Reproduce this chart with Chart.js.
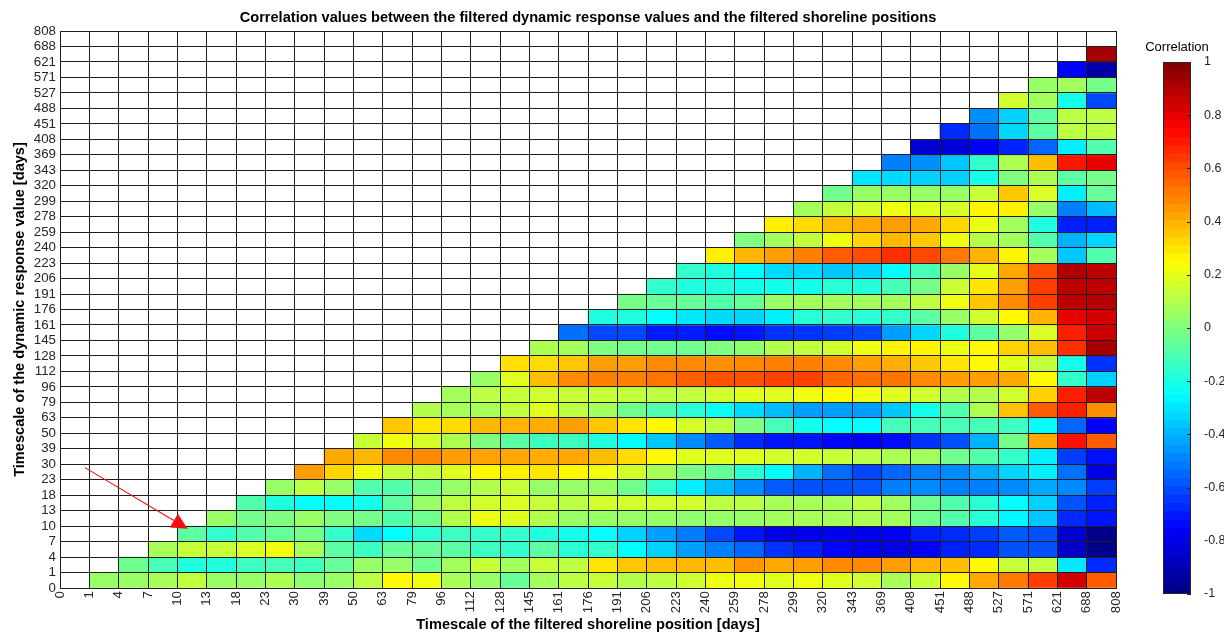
<!DOCTYPE html>
<html><head><meta charset="utf-8">
<script src="https://cdn.jsdelivr.net/npm/chart.js@4.4.1/dist/chart.umd.min.js"></script>
<style>
html,body{margin:0;padding:0;background:#fff;}
#wrap{position:relative;width:1224px;height:634px;overflow:hidden;background:#fff;}
#main{position:absolute;left:0;top:0;}
#cbar{position:absolute;left:1130px;top:0;}
</style></head><body>
<div id="wrap"><canvas id="main" width="1224" height="634"></canvas><canvas id="cbar" width="94" height="634"></canvas></div>
<script>
// Tick labels (cell edges) shared by both axes, in days
const timescales = [0,1,4,7,10,13,18,23,30,39,50,63,79,96,112,128,145,161,176,191,206,223,240,259,278,299,320,343,369,408,451,488,527,571,621,688,808];

// Correlation values, one array per dynamic-response row (row k spans timescales[k]..timescales[k+1]),
// each row starts at shoreline column k+1 and runs to the last column.
const r00 = [0.05,0.05,0.08,0.13,0.05,0.05,0.09,0.03,0.05,0.12, 0.26,0.22,0.08,0.05,-0.05,0.07,0.12,0.14,0.10,0.12, 0.16,0.22,0.22,0.19,0.22,0.19,0.16,0.08,0.14,0.26, 0.42,0.51,0.63,0.84,0.57];
const r01 = [-0.03,-0.11,-0.19,-0.19,-0.13,-0.11,-0.13,-0.05,0.05, 0.05,-0.03,0.07,0.14,0.07,0.14,0.12,0.30,0.36,0.38, 0.39,0.38,0.46,0.42,0.44,0.48,0.48,0.44,0.40,0.38, 0.26,0.14,0.13,-0.29,-0.67];
const r02 = [0.08,0.14,0.14,0.18,0.22,0.08,-0.07,-0.13, -0.05,-0.05,-0.07,-0.13,-0.15,-0.07,-0.17,-0.15,-0.25,-0.34, -0.44,-0.50,-0.55,-0.65,-0.69,-0.74,-0.78,-0.80,-0.77,-0.69, -0.67,-0.59,-0.59,-0.86,-0.98];
const r03 = [-0.07,-0.15,-0.09,-0.05,-0.02,-0.15,-0.32, -0.25,-0.17,-0.13,-0.15,-0.15,-0.19,-0.21,-0.25,-0.34,-0.44, -0.51,-0.61,-0.71,-0.79,-0.78,-0.77,-0.78,-0.76,-0.69,-0.67, -0.63,-0.57,-0.59,-0.84,-0.98];
const r04 = [0.05,-0.02,0.00,0.05,0.00,-0.02, -0.09,-0.03,0.10,0.21,0.19,0.10,0.05,0.05,0.05,0.05, 0.03,0.05,0.05,0.07,0.08,0.08,0.09,0.07,-0.03,-0.09, -0.17,-0.26,-0.36,-0.67,-0.71];
const r05 = [-0.09,-0.19,-0.25,-0.25,-0.21, -0.07,0.05,0.12,0.16,0.18,0.14,0.12,0.16,0.16,0.16, 0.16,0.12,0.12,0.08,0.08,0.08,0.12,0.07,-0.03,-0.09, -0.17,-0.25,-0.34,-0.59,-0.69];
const r06 = [0.05,0.12,0.05,-0.09, -0.09,-0.02,0.05,0.10,0.14,0.05,0.05,0.05,-0.03,-0.15, -0.28,-0.38,-0.48,-0.57,-0.59,-0.59,-0.58,-0.50,-0.48,-0.50, -0.50,-0.48,-0.42,-0.48,-0.63];
const r07 = [0.44,0.33,0.22, 0.14,0.14,0.19,0.26,0.28,0.30,0.26,0.22,0.16,0.08, -0.01,-0.05,-0.16,-0.25,-0.40,-0.54,-0.61,-0.55,-0.50,-0.48, -0.41,-0.33,-0.28,-0.53,-0.80];
const r08 = [0.42,0.39, 0.48,0.48,0.44,0.43,0.42,0.41,0.42,0.38,0.32,0.26, 0.19,0.19,0.19,0.16,0.16,0.14,0.12,0.09,0.07,-0.03, -0.09,-0.15,-0.28,-0.63,-0.72];
const r09 = [0.14, 0.22,0.17,0.09,0.00,-0.07,-0.13,-0.13,-0.19,-0.25,-0.36, -0.48,-0.57,-0.67,-0.71,-0.71,-0.74,-0.75,-0.73,-0.65,-0.59, -0.40,-0.02,0.42,0.72,0.57];
const r10 = [0.36,0.30,0.32,0.39,0.40,0.41,0.44,0.36,0.30,0.26, 0.17,0.12,0.00,-0.11,-0.21,-0.25,-0.25,-0.11,-0.11,-0.11, -0.11,-0.13,-0.25,-0.55,-0.75];
const r11 = [0.10,0.08,0.08,0.13,0.19,0.12,0.07,-0.03,-0.09, -0.17,-0.23,-0.32,-0.38,-0.44,-0.44,-0.44,-0.36,-0.21,-0.09, 0.09,0.37,0.57,0.69,0.47];
const r12 = [0.07,0.12,0.14,0.16,0.14,0.14,0.13,0.12, 0.13,0.16,0.19,0.19,0.22,0.26,0.22,0.19,0.16,0.10, 0.10,0.16,0.34,0.69,0.88];
const r13 = [0.05,0.19,0.38,0.48,0.50,0.50,0.52, 0.56,0.59,0.59,0.62,0.62,0.55,0.53,0.52,0.48,0.44, 0.44,0.42,0.26,-0.15,-0.34];
const r14 = [0.31,0.32,0.36,0.44,0.44,0.48, 0.48,0.47,0.48,0.50,0.50,0.48,0.44,0.41,0.36,0.30, 0.26,0.19,0.13,-0.21,-0.65];
const r15 = [0.09,0.07,0.00,-0.02,-0.03, -0.03,0.00,0.03,0.10,0.13,0.16,0.22,0.27,0.27,0.21, 0.26,0.34,0.38,0.66,0.92];
const r16 = [-0.53,-0.61,-0.61,-0.70, -0.70,-0.73,-0.71,-0.65,-0.65,-0.63,-0.61,-0.44,-0.33,-0.19, -0.07,0.04,0.18,0.69,0.85];
const r17 = [-0.19,-0.19,-0.25, -0.29,-0.32,-0.33,-0.28,-0.17,-0.15,-0.17,-0.15,-0.07,0.05, 0.16,0.26,0.40,0.79,0.83];
const r18 = [-0.02,-0.05, -0.05,-0.09,-0.05,0.05,0.07,0.07,0.07,0.07,0.12,0.22, 0.36,0.48,0.63,0.88,0.89];
const r19 = [-0.15, -0.19,-0.19,-0.21,-0.21,-0.21,-0.17,-0.18,-0.11,-0.02,0.15, 0.30,0.44,0.63,0.88,0.88];
const r20 = [-0.15,-0.19,-0.25,-0.32,-0.32,-0.36,-0.33,-0.25,-0.11,0.05, 0.20,0.42,0.60,0.91,0.88];
const r21 = [0.28,0.39,0.44,0.50,0.57,0.60,0.66,0.61,0.51, 0.40,0.27,0.07,-0.36,-0.09];
const r22 = [0.00,0.07,0.13,0.22,0.33,0.39,0.36,0.22, 0.11,0.07,-0.09,-0.40,-0.33];
const r23 = [0.28,0.32,0.38,0.42,0.44,0.42,0.33, 0.21,0.07,-0.19,-0.69,-0.69];
const r24 = [0.07,0.13,0.17,0.22,0.19,0.17, 0.27,0.28,0.05,-0.50,-0.38];
const r25 = [-0.03,0.05,0.05,0.05,0.05, 0.14,0.36,0.18,-0.28,-0.05];
const r26 = [-0.30,-0.32,-0.34,-0.34, -0.21,0.00,0.09,-0.07,-0.02];
const r27 = [-0.50,-0.47,-0.36, -0.15,0.09,0.38,0.71,0.79];
const r28 = [-0.84,-0.82,-0.75,-0.68,-0.55,-0.28,-0.09];
const r29 = [-0.67,-0.53,-0.33,-0.07,0.12,0.12];
const r30 = [-0.47,-0.34,-0.07,0.12,0.12];
const r31 = [0.16,0.07,-0.21,-0.61];
const r32 = [0.05,0.07,-0.02];
const r33 = [-0.75,-0.92];
const r34 = [0.92];

const colorbarTicks = [-1,-0.8,-0.6,-0.4,-0.2,0,0.2,0.4,0.6,0.8,1];

const rows = [r00,r01,r02,r03,r04,r05,r06,r07,r08,r09,r10,r11,r12,r13,r14,r15,r16,r17,r18,r19,r20,r21,r22,r23,r24,r25,r26,r27,r28,r29,r30,r31,r32,r33,r34];

function clamp01(a){return Math.max(0,Math.min(1,a));}
function jetT(t){
  const r = clamp01(1.5 - Math.abs(4*t-3));
  const g = clamp01(1.5 - Math.abs(4*t-2));
  const b = clamp01(1.5 - Math.abs(4*t-1));
  return 'rgb('+Math.round(r*255)+','+Math.round(g*255)+','+Math.round(b*255)+')';
}
function jet(v){ return jetT(clamp01((v+1)/2)); }
function jetQ(v){ const i = Math.min(63, Math.floor(clamp01((v+1)/2)*64)); return jetT((i+0.5)/64); }

const cells = [];
rows.forEach((vals, r) => {
  vals.forEach((v, j) => {
    const c = r + 1 + j;
    cells.push({x: c + 0.5, y: [r, r + 1], v: v});
  });
});

const FONT = "'Liberation Sans', Arial, Helvetica, sans-serif";
const TXT = '#262626';
const LBL = 14.6;

const arrowPlugin = {
  id: 'arrow',
  afterDraw(chart, args, o) {
    const xs = chart.scales.x, ys = chart.scales.y, ctx = chart.ctx;
    const x0 = xs.getPixelForValue(o.from[0]), y0 = ys.getPixelForValue(o.from[1]);
    const x1 = xs.getPixelForValue(o.to[0]), y1 = ys.getPixelForValue(o.to[1]);
    const a = Math.atan2(y1 - y0, x1 - x0);
    const L = o.head, W = o.head * 0.5;
    const bx = x1 - L*Math.cos(a), by = y1 - L*Math.sin(a);
    ctx.save();
    ctx.strokeStyle = o.color; ctx.fillStyle = o.color; ctx.lineWidth = o.width;
    ctx.beginPath(); ctx.moveTo(x0, y0); ctx.lineTo(bx, by); ctx.stroke();
    ctx.beginPath();
    ctx.moveTo(x1, y1);
    ctx.lineTo(bx + W*Math.sin(a), by - W*Math.cos(a));
    ctx.lineTo(bx - W*Math.sin(a), by + W*Math.cos(a));
    ctx.closePath(); ctx.fill();
    ctx.restore();
  }
};

new Chart(document.getElementById('main'), {
  type: 'bar',
  data: {
    datasets: [{
      data: cells,
      backgroundColor: (ctx) => ctx.raw ? jet(ctx.raw.v) : '#fff',
      borderWidth: 0,
      barPercentage: 1,
      categoryPercentage: 1,
      grouped: false
    }]
  },
  options: {
    responsive: false, animation: false, devicePixelRatio: 1, events: [],
    layout: { padding: { left: 0, right: 108, top: 0, bottom: 0 } },
    plugins: {
      legend: { display: false },
      tooltip: { enabled: false },
      title: {
        display: true, fullSize: false,
        text: 'Correlation values between the filtered dynamic response values and the filtered shoreline positions',
        color: '#000', font: { family: FONT, size: LBL, weight: 'bold', lineHeight: 1.2 },
        padding: { top: 9.2, bottom: 4.3 }
      },
      arrow: { from: [0.85, 7.78], to: [4.35, 3.83], color: '#f01010', width: 1.1, head: 16 }
    },
    scales: {
      x: {
        type: 'linear', min: 0, max: 36, offset: false,
        ticks: { stepSize: 1, autoSkip: false, maxRotation: 90, minRotation: 90, padding: 3, z: 2,
          color: TXT, font: { family: FONT, size: 13.3 },
          callback: (v) => timescales[Math.round(v)] },
        grid: { offset: false, color: '#1e1e1e', lineWidth: 1, drawTicks: false, z: 1 },
        border: { display: true, color: '#1e1e1e', z: 1 },
        title: { display: true, text: 'Timescale of the filtered shoreline position [days]',
          color: '#000', font: { family: FONT, size: LBL, weight: 'bold', lineHeight: 1.2 }, padding: { top: 0, bottom: 0 } },
        afterFit: (s) => { s.height = 46; }
      },
      y: {
        type: 'linear', min: 0, max: 36,
        ticks: { stepSize: 1, autoSkip: false, padding: 4, z: 2,
          color: TXT, font: { family: FONT, size: 13.3 },
          callback: (v) => timescales[Math.round(v)] },
        grid: { offset: false, color: '#1e1e1e', lineWidth: 1, drawTicks: false, z: 1 },
        border: { display: true, color: '#1e1e1e', z: 1 },
        title: { display: true, text: 'Timescale of the dynamic response value [days]',
          color: '#000', font: { family: FONT, size: LBL, weight: 'bold', lineHeight: 1.2 }, padding: { top: 11.2, bottom: 0 } },
        afterFit: (s) => { s.width = 60; }
      }
    }
  },
  plugins: [arrowPlugin]
});

// Colorbar
const cbLevels = [];
for (let i = 0; i < 64; i++) {
  const lo = -1 + 2 * i / 64, hi = -1 + 2 * (i + 1) / 64;
  cbLevels.push({ x: 'c', y: [lo, hi], v: (lo + hi) / 2 });
}
const cbBox = {
  id: 'cbBox',
  afterDraw(chart) {
    const { ctx, chartArea: a } = chart;
    const ys = chart.scales.y;
    ctx.save();
    ctx.strokeStyle = '#262626'; ctx.lineWidth = 1;
    ctx.strokeRect(Math.round(a.left) + 0.5, Math.round(a.top) + 0.5, Math.round(a.right - a.left) - 1, Math.round(a.bottom - a.top) - 1);
    colorbarTicks.forEach(t => {
      const y = Math.round(ys.getPixelForValue(t)) + 0.5;
      ctx.beginPath(); ctx.moveTo(a.right - 4, y); ctx.lineTo(a.right, y); ctx.stroke();
    });
    ctx.restore();
  }
};
new Chart(document.getElementById('cbar'), {
  type: 'bar',
  data: { labels: ['c'], datasets: [{ data: cbLevels, backgroundColor: (ctx) => ctx.raw ? jetQ(ctx.raw.v) : '#fff',
    borderWidth: 0, barPercentage: 1, categoryPercentage: 1, grouped: false }] },
  options: {
    responsive: false, animation: false, devicePixelRatio: 1, events: [],
    layout: { padding: { left: 0, right: 0, top: 0, bottom: 40 } },
    plugins: {
      legend: { display: false }, tooltip: { enabled: false },
      title: { display: true, fullSize: true, text: 'Correlation', color: '#000',
        font: { family: FONT, size: 13, weight: 'normal', lineHeight: 1.2 }, padding: { top: 39.2, bottom: 7.2 } }
    },
    scales: {
      x: { display: false },
      yl: { type: 'linear', position: 'left', display: true,
        ticks: { display: false }, grid: { display: false }, border: { display: false },
        afterFit: (s) => { s.width = 33; } },
      y: { position: 'right', min: -1, max: 1,
        afterBuildTicks: (s) => { s.ticks = colorbarTicks.map(v => ({ value: v })); },
        ticks: { padding: 5, color: TXT, font: { family: FONT, size: 12.5 },
          callback: (v) => String(Math.round(v * 10) / 10) },
        grid: { display: false },
        border: { display: false },
        afterFit: (s) => { s.width = 33; }
      }
    }
  },
  plugins: [cbBox]
});
</script>
</body></html>
